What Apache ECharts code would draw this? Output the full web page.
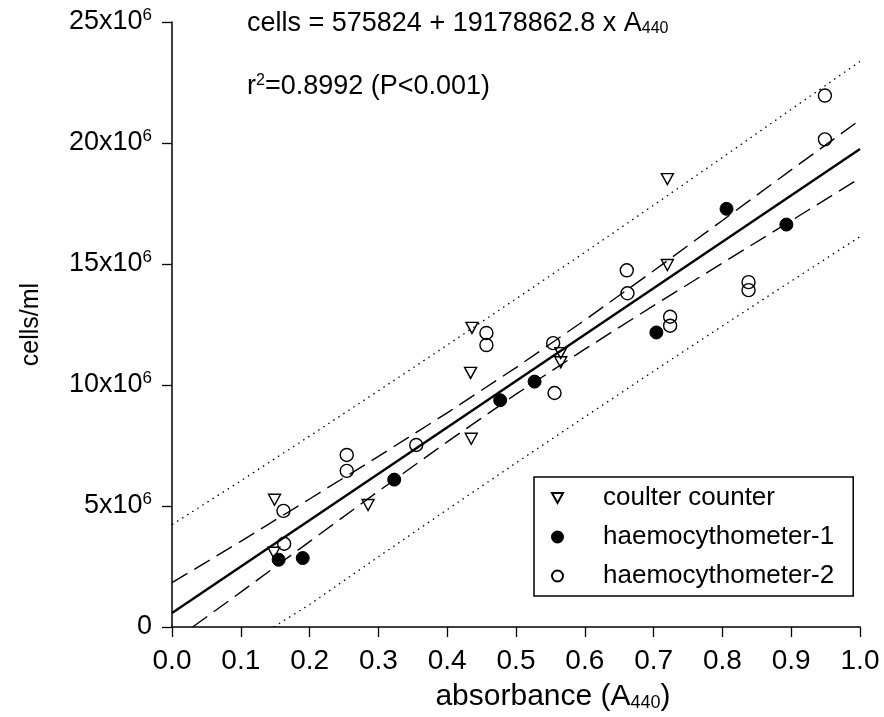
<!DOCTYPE html>
<html><head><meta charset="utf-8">
<script src="https://cdn.jsdelivr.net/npm/echarts@6/dist/echarts.min.js"></script>
<style>html,body{margin:0;padding:0;background:#fff}#chart{width:884px;height:717px}</style>
</head><body><div id="chart"></div>
<script>
// ---- data (values in cells/ml) ----
const coulterX = [0.149, 0.148, 0.285, 0.436, 0.434, 0.435, 0.565, 0.565, 0.720, 0.720];
const coulterY = [5.26e6, 3.07e6, 5.04e6, 12.36e6, 10.50e6, 7.78e6, 11.32e6, 10.94e6, 18.51e6, 14.96e6];

const haemo1X = [0.155, 0.190, 0.323, 0.477, 0.527, 0.704, 0.806, 0.893];
const haemo1Y = [2.78e6, 2.85e6, 6.09e6, 9.37e6, 10.14e6, 12.17e6, 17.28e6, 16.63e6];

const haemo2X = [0.162, 0.163, 0.254, 0.254, 0.355, 0.457, 0.457, 0.554, 0.556, 0.661, 0.662, 0.724, 0.724, 0.838, 0.838, 0.949, 0.949];
const haemo2Y = [4.80e6, 3.44e6, 7.11e6, 6.45e6, 7.52e6, 12.15e6, 11.65e6, 11.73e6, 9.67e6, 14.74e6, 13.79e6, 12.82e6, 12.45e6, 14.25e6, 13.92e6, 21.96e6, 20.15e6];

// regression line: cells = 575824 + 19178862.8 x A440
const fitX = [0, 1.0];
const fitY = [575824, 19754686.8];

// 95% confidence band (dashed)
const ciUpperX = [0, 0.1, 0.2, 0.3, 0.4, 0.5, 0.6, 0.7, 0.8, 0.9, 1.0];
const ciUpperY = [1.83e6, 3.54e6, 5.29e6, 7.05e6, 8.85e6, 10.72e6, 12.68e6, 14.72e6, 16.80e6, 18.89e6, 20.95e6];
const ciLowerX = [0.03, 0.1, 0.2, 0.3, 0.4, 0.5, 0.6, 0.7, 0.8, 0.9, 1.0];
const ciLowerY = [0, 1.44e6, 3.53e6, 5.61e6, 7.65e6, 9.62e6, 11.48e6, 13.28e6, 15.04e6, 16.79e6, 18.55e6];

// prediction band (dotted)
const piUpperX = [0, 0.1, 0.2, 0.3, 0.4, 0.5, 0.6, 0.7, 0.8, 0.9, 1.0];
const piUpperY = [4.23e6, 6.04e6, 7.89e6, 9.76e6, 11.65e6, 13.56e6, 15.48e6, 17.43e6, 19.40e6, 21.39e6, 23.37e6];
const piLowerX = [0.148, 0.2, 0.3, 0.4, 0.5, 0.6, 0.7, 0.8, 0.9, 1.0];
const piLowerY = [0, 0.93e6, 2.90e6, 4.85e6, 6.78e6, 8.68e6, 10.57e6, 12.44e6, 14.29e6, 16.13e6];

const seriesNames = ['coulter counter', 'haemocythometer-1', 'haemocythometer-2'];

const FONT = '"Liberation Sans", Arial, Helvetica, sans-serif';
const zip = (xs, ys) => xs.map((x, i) => [x, ys[i]]);
const triDown = 'path://M0,0 L10,0 L5,9 Z';

const chart = echarts.init(document.getElementById('chart'), null, {renderer: 'canvas'});

const lineSeries = (xs, ys, type, width) => ({
  type: 'line', data: zip(xs, ys), symbol: 'none', silent: true,
  lineStyle: {color: '#000', width: width, type: type},
  z: 1
});

chart.setOption({
  animation: false,
  backgroundColor: '#fff',
  textStyle: {fontFamily: FONT},
  grid: {left: 172, right: 24, top: 22, bottom: 89, containLabel: false},
  xAxis: {
    type: 'value', min: 0, max: 1, interval: 0.1,
    name: '{n|absorbance (A}{sub|440}{n|)}', nameLocation: 'middle', nameGap: 55,
    nameTextStyle: {padding: [0, 0, 0, 74], rich: {
      n: {fontSize: 30, fontFamily: FONT, color: '#000'},
      sub: {fontSize: 18, fontFamily: FONT, color: '#000', verticalAlign: 'bottom', padding: [12, 0, 0, 0]}
    }},
    axisLine: {lineStyle: {color: '#000', width: 1.5}},
    axisTick: {length: 10, lineStyle: {color: '#000', width: 1.3}},
    axisLabel: {margin: 20, fontSize: 28, color: '#000', fontFamily: FONT,
      formatter: v => v.toFixed(1)},
    splitLine: {show: false}
  },
  yAxis: {
    type: 'value', min: 0, max: 25e6, interval: 5e6,
    name: 'cells/ml', nameLocation: 'middle', nameGap: 128, nameRotate: 90,
    nameTextStyle: {fontSize: 25, color: '#000', fontFamily: FONT},
    axisLine: {lineStyle: {color: '#000', width: 1.5}},
    axisTick: {length: 10, lineStyle: {color: '#000', width: 1.3}},
    axisLabel: {margin: 20, color: '#000',
      formatter: v => v === 0 ? '{a|0}' : '{a|' + (v / 1e6) + 'x10}{s|6}',
      rich: {
        a: {fontSize: 27, fontFamily: FONT, color: '#000'},
        s: {fontSize: 17, fontFamily: FONT, color: '#000', verticalAlign: 'top', padding: [0, 0, 13, 0]}
      }},
    splitLine: {show: false}
  },
  legend: {
    data: seriesNames,
    orient: 'vertical', left: 534, top: 477,
    itemWidth: 11, itemHeight: 11, itemGap: 11,
    padding: [7, 19, 6, 17],
    borderColor: '#000', borderWidth: 1.5, backgroundColor: '#fff',
    textStyle: {fontSize: 26, color: '#000', fontFamily: FONT, lineHeight: 28, padding: [0, 0, 0, 35]}
  },
  graphic: [
    {type: 'text', left: 247, top: 10, z: 10, style: {
      text: '{t|cells = 575824 + 19178862.8 x A}{sub|440}',
      rich: {
        t: {fontSize: 27, fontFamily: FONT, fill: '#000'},
        sub: {fontSize: 16, fontFamily: FONT, fill: '#000', verticalAlign: 'bottom', padding: [10, 0, 0, 0]}
      }}},
    {type: 'text', left: 247, top: 73, z: 10, style: {
      text: '{t|r}{sup|2}{t|=0.8992 (P<0.001)}',
      rich: {
        t: {fontSize: 27, fontFamily: FONT, fill: '#000'},
        sup: {fontSize: 16, fontFamily: FONT, fill: '#000', verticalAlign: 'top', padding: [0, 0, 12, 0]}
      }}}
  ],
  series: [
    lineSeries(piUpperX, piUpperY, [1.5, 4.5], 1.3),
    lineSeries(piLowerX, piLowerY, [1.5, 4.5], 1.3),
    lineSeries(ciUpperX, ciUpperY, [18, 8], 1.4),
    lineSeries(ciLowerX, ciLowerY, [18, 8], 1.4),
    lineSeries(fitX, fitY, 'solid', 2.4),
    {name: seriesNames[0], type: 'scatter', data: zip(coulterX, coulterY), symbol: triDown, symbolSize: [12, 11],
      itemStyle: {color: 'rgba(0,0,0,0)', borderColor: '#000', borderWidth: 1.4, opacity: 1}, z: 5},
    {name: seriesNames[1], type: 'scatter', data: zip(haemo1X, haemo1Y), symbol: 'circle', symbolSize: 13,
      itemStyle: {color: '#000', borderColor: '#000', borderWidth: 1, opacity: 1}, z: 5},
    {name: seriesNames[2], type: 'scatter', data: zip(haemo2X, haemo2Y), symbol: 'circle', symbolSize: 13,
      itemStyle: {color: 'rgba(0,0,0,0)', borderColor: '#000', borderWidth: 1.4, opacity: 1}, z: 5}
  ]
});
</script>
</body></html>
